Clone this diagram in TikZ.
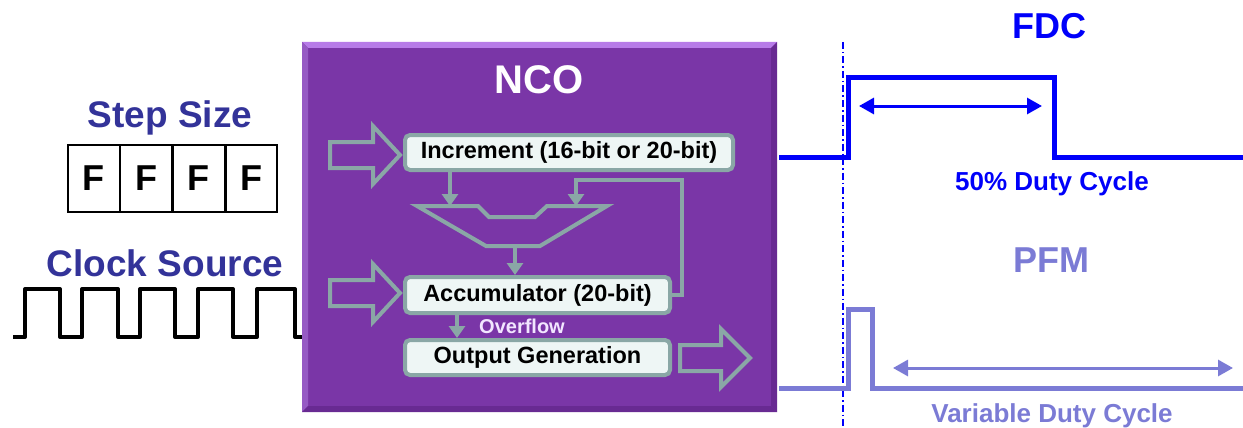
\documentclass[tikz,border=0pt]{standalone}
\usepackage{fontspec}
\setmainfont{Liberation Sans}
\usetikzlibrary{arrows.meta}

\definecolor{ncopurple}{RGB}{122,54,167}
\definecolor{ncolight}{RGB}{183,123,232}
\definecolor{ncoleft}{RGB}{150,90,196}
\definecolor{ncodark}{RGB}{104,42,146}
\definecolor{teal}{RGB}{138,167,166}
\definecolor{boxfill}{RGB}{238,246,245}
\definecolor{navy}{RGB}{51,51,153}
\definecolor{fdcblue}{RGB}{0,0,250}
\definecolor{pfmlav}{RGB}{123,123,213}
\definecolor{ovfwhite}{RGB}{242,230,255}

\newcommand{\fs}[1]{\fontsize{#1}{#1}\selectfont\bfseries}

\tikzset{
  title/.style={anchor=base, inner sep=0pt},
  cell/.style={draw=black, line width=1.4pt, minimum width=51.25pt, minimum height=67pt,
    inner sep=0pt, font=\fs{36}},
  stagebox/.style={draw=teal, fill=boxfill, line width=4pt, rounded corners=5pt,
    inner sep=0pt, font=\fs{23.5}},
  conn/.style={draw=teal, line width=4pt, -{Triangle[width=16pt,length=12pt]}},
  blockarrow/.style={draw=teal, line width=4pt, line join=miter, fill=ncopurple},
  clockwave/.style={draw=black, line width=4pt, line join=round},
  fdcwave/.style={draw=fdcblue, line width=5pt, line join=miter},
  pfmwave/.style={draw=pfmlav, line width=5pt, line join=miter},
  span/.style={line width=3pt, {Triangle[width=16pt,length=15pt]}-{Triangle[width=16pt,length=15pt]}},
}

\begin{document}
\begin{tikzpicture}[x=1pt,y=-1pt]
\useasboundingbox (0,0) rectangle (1243,428);
\clip (0,0) rectangle (1243,428);

% ---------- inputs on the left ----------
\node[title, text=navy, font=\fs{37}] (steplbl) at (170,128) {Step Size};
\node[cell] (f1) at (93.6,178.5) {F};
\node[cell, anchor=west] (f2) at (f1.east) {F};
\node[cell, anchor=west] (f3) at (f2.east) {F};
\node[cell, anchor=west] (f4) at (f3.east) {F};

\node[title, text=navy, font=\fs{37}] (clklbl) at (165,276) {Clock Source};
\draw[clockwave] (13,337) -- (25,337) -- (25,289) -- (60,289) -- (60,337)
  -- (82,337) -- (82,289) -- (118,289) -- (118,337)
  -- (140,337) -- (140,289) -- (175,289) -- (175,337)
  -- (198,337) -- (198,289) -- (233,289) -- (233,337)
  -- (257,337) -- (257,289) -- (295,289) -- (295,337) -- (304,337);

% ---------- NCO block with bevelled edge ----------
\fill[ncopurple] (302,42) rectangle (777,412);
\fill[ncolight] (302,42) -- (777,42) -- (771,48) -- (308,48) -- cycle;
\fill[ncoleft] (302,42) -- (308,48) -- (308,406) -- (302,412) -- cycle;
\fill[ncodark] (777,42) -- (777,412) -- (771,406) -- (771,48) -- cycle;
\fill[ncodark] (302,412) -- (777,412) -- (771,406) -- (308,406) -- cycle;

\node[title, text=white, font=\fs{40}] (ncolbl) at (539,93) {NCO};

\node[stagebox, minimum width=328pt, minimum height=35pt] (inc) at (569,152.5)
  {Increment (16-bit or 20-bit)};
\node[stagebox, minimum width=265pt, minimum height=36pt] (acc) at (537.5,295)
  {Accumulator (20-bit)};
\node[stagebox, minimum width=265pt, minimum height=35pt] (outg) at (537.5,357.5)
  {Output Generation};

% adder
\draw[teal, line width=4pt, line join=miter]
  (417,206) -- (478,206) -- (489,217) -- (535,217) -- (547,206) -- (607,206)
  -- (540,246) -- (486,246) -- cycle;
\coordinate (addA) at (450,206);
\coordinate (addB) at (576,206);
\coordinate (addOut) at (515,248);

\draw[conn] (inc.south -| addA) -- (addA);
\draw[conn] (acc.east) -| (682,180) -| (addB);
\draw[conn] (addOut) -- (addOut |- acc.north);
\draw[conn] ([xshift=-80.5pt]acc.south) -- ([xshift=-80.5pt]outg.north);
\node[title, text=ovfwhite, font=\fs{20}] (ovf) at (522,333) {Overflow};

% hollow block arrows
\draw[blockarrow] (330,142) -- (373,142) -- (373,126) -- (400,155) -- (373,184)
  -- (373,168) -- (330,168) -- cycle;
\draw[blockarrow] (330,280) -- (373,280) -- (373,264) -- (400,293) -- (373,322)
  -- (373,306) -- (330,306) -- cycle;
\draw[blockarrow] (680,345) -- (721,345) -- (721,329) -- (750,358) -- (721,387)
  -- (721,371) -- (680,371) -- cycle;

% ---------- output waveforms ----------
\coordinate (mtop) at (843,42);
\coordinate (mbot) at (843,430);
\draw[fdcblue, line width=2.2pt, dash pattern=on 7pt off 3pt on 1.5pt off 3pt] (mtop) -- (mbot);

\node[title, text=fdcblue, font=\fs{36}] (fdclbl) at (1049,39) {FDC};
\draw[fdcwave] (779,157) -- (848,157) -- (848,78) -- (1054,78) -- (1054,157) -- (1245,157);
\coordinate (fdcL) at (859,106);
\coordinate (fdcR) at (1042,106);
\draw[span, fdcblue] (fdcL) -- (fdcR);
\node[title, text=fdcblue, font=\fs{26}] (fdcduty) at (1052,190) {50\% Duty Cycle};

\node[title, text=pfmlav, font=\fs{36}] (pfmlbl) at (1051,272) {PFM};
\draw[pfmwave] (779,388) -- (848,388) -- (848,309) -- (872,309) -- (872,388) -- (1245,388);
\coordinate (pfmL) at (893,368);
\coordinate (pfmR) at (1233,368);
\draw[span, pfmlav] (pfmL) -- (pfmR);
\node[title, text=pfmlav, font=\fs{26}] (pfmduty) at (1052,422) {Variable Duty Cycle};
\end{tikzpicture}
\end{document}
